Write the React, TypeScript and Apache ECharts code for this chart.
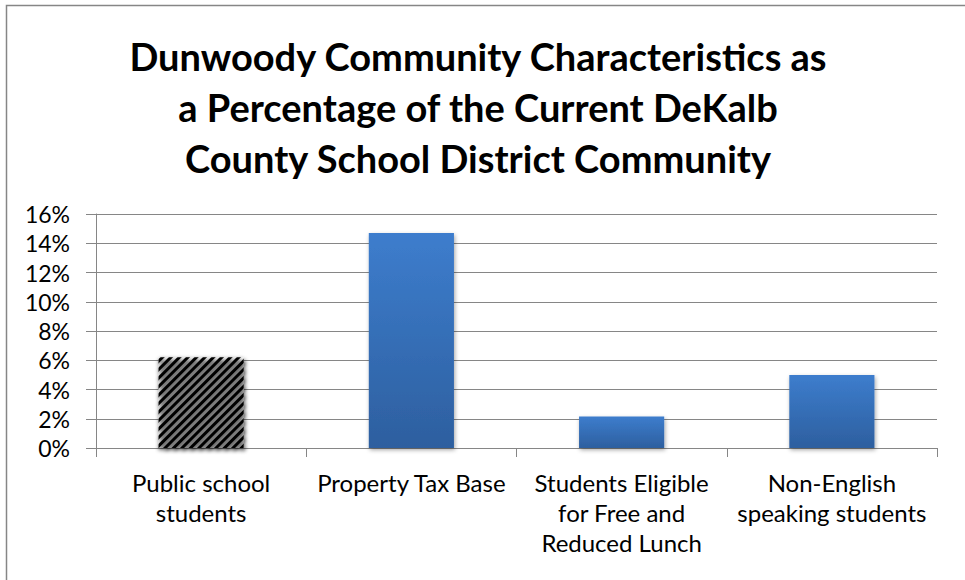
import React, { useEffect, useRef } from "react";
import * as echarts from "echarts";

const titleLines = [
  "Dunwoody Community Characteristics as",
  "a Percentage of the Current DeKalb",
  "County School District Community",
];
const categories = [
  "Public school\nstudents",
  "Property Tax Base",
  "Students Eligible\nfor Free and\nReduced Lunch",
  "Non-English\nspeaking students",
];
const values = [6.2, 14.7, 2.15, 5.0];
const yMin = 0;
const yMax = 16;
const yInterval = 2;

const FONT = "Lato";
const GRID_GRAY = "#868686";

export default function App() {
  const ref = useRef<HTMLDivElement>(null);
  useEffect(() => {
    if (!ref.current) return;
    const chart = echarts.init(ref.current, undefined, { renderer: "svg" });
    const blueGrad = new echarts.graphic.LinearGradient(0, 0, 0, 1, [
      { offset: 0, color: "#3d7dcd" },
      { offset: 1, color: "#2d5f9f" },
    ]);
    chart.setOption({
      animation: false,
      backgroundColor: "#ffffff",
      title: {
        text: titleLines.join("\n"),
        left: 473,
        textAlign: "center",
        top: 25,
        textStyle: {
          fontFamily: FONT,
          fontWeight: "bold",
          fontSize: 38,
          lineHeight: 51,
          color: "#000000",
        },
      },
      graphic: [
        {
          type: "rect",
          silent: true,
          shape: { x: 6.5, y: 5.5, width: 1000, height: 1000 },
          style: { fill: "none", stroke: "#868686", lineWidth: 1.5 },
        },
      ],
      grid: { left: 96, right: 28, top: 214, bottom: 132, containLabel: false },
      xAxis: {
        type: "category",
        data: categories,
        axisLine: { show: true, lineStyle: { color: GRID_GRAY, width: 1 } },
        axisTick: { show: true, alignWithLabel: false, length: 9, lineStyle: { color: GRID_GRAY } },
        axisLabel: {
          interval: 0,
          margin: 19,
          verticalAlign: "top",
          fontFamily: FONT,
          fontSize: 24,
          lineHeight: 30,
          color: "#000000",
        },
      },
      yAxis: {
        type: "value",
        min: yMin,
        max: yMax,
        interval: yInterval,
        axisLine: { show: true, lineStyle: { color: GRID_GRAY, width: 1 } },
        axisTick: { show: true, inside: false, length: 10, lineStyle: { color: GRID_GRAY } },
        splitLine: { show: true, lineStyle: { color: GRID_GRAY, width: 1 } },
        axisLabel: {
          formatter: "{value}%",
          margin: 26,
          fontFamily: FONT,
          fontSize: 23,
          color: "#000000",
        },
      },
      series: [
        {
          type: "bar",
          barWidth: "40.5%",
          data: values.map((v, i) =>
            i === 0
              ? {
                  value: v,
                  itemStyle: {
                    color: "#ffffff",
                    shadowColor: "rgba(0,0,0,0.35)",
                    shadowBlur: 4,
                    shadowOffsetX: 1,
                    shadowOffsetY: 2,
                    decal: {
                      symbol: "rect",
                      symbolSize: 1,
                      color: "#000000",
                      backgroundColor: "#ffffff",
                      dashArrayX: [1, 0],
                      dashArrayY: [2.5, 2.5],
                      rotation: -Math.PI / 4,
                    },
                  },
                }
              : {
                  value: v,
                  itemStyle: {
                    color: blueGrad,
                    shadowColor: "rgba(0,0,0,0.35)",
                    shadowBlur: 4,
                    shadowOffsetX: 1,
                    shadowOffsetY: 2,
                  },
                }
          ),
        },
      ],
    });
    return () => chart.dispose();
  }, []);
  return (
    <div
      ref={ref}
      style={{ position: "fixed", left: 0, top: 0, width: 965, height: 580 }}
    />
  );
}
